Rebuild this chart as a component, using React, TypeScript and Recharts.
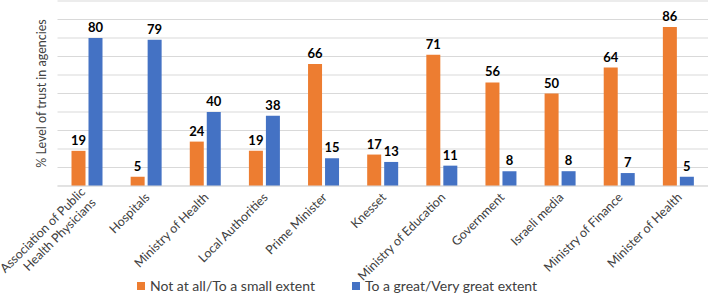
import React from 'react';
import { BarChart, Bar, XAxis, YAxis, ReferenceLine, Legend, LabelList } from 'recharts';

const CATEGORIES = [
  'Association of Public\nHealth Physicians',
  'Hospitals',
  'Ministry of Health',
  'Local Authorities',
  'Prime Minister',
  'Knesset',
  'Ministry of Education',
  'Government',
  'Israeli media',
  'Ministry of Finance',
  'Minister of Health',
];
const LOW_TRUST = [19, 5, 24, 19, 66, 17, 71, 56, 50, 64, 86];
const HIGH_TRUST = [80, 79, 40, 38, 15, 13, 11, 8, 8, 7, 5];
const Y_TICKS = [0, 10, 20, 30, 40, 50, 60, 70, 80, 90, 100];

const ORANGE = '#ED7D31';
const BLUE = '#4472C4';
const TEXT = '#404040';
const GRID = '#d9d9d9';
const FONT = 'Lato, "Open Sans", sans-serif';

const data = CATEGORIES.map((name, i) => ({ name, low: LOW_TRUST[i], high: HIGH_TRUST[i] }));

const AngledTick = ({ x, y, payload }: any) => {
  const lines: string[] = String(payload.value).split('\n');
  const lh = 15;
  return (
    <g transform={`translate(${x + 1},${y + 7}) rotate(-45)`}>
      <text textAnchor="end" fill={TEXT} fontSize={12.5} fontFamily={FONT}>
        {lines.map((t, i) => (
          <tspan key={i} x={0} dy={i === 0 ? -((lines.length - 1) * lh) / 2 + 4.5 : lh}>
            {t}
          </tspan>
        ))}
      </text>
    </g>
  );
};

const LegendBox = () => {
  const items = [
    { label: 'Not at all/To a small extent', color: ORANGE },
    { label: 'To a great/Very great extent', color: BLUE },
  ];
  return (
    <div style={{ display: 'flex', justifyContent: 'center', gap: 37, fontFamily: FONT, fontSize: 14, color: TEXT, paddingRight: 34 }}>
      {items.map((it) => (
        <div key={it.label} style={{ display: 'flex', alignItems: 'center' }}>
          <span style={{ width: 8, height: 8, background: it.color, marginRight: 5, display: 'inline-block' }} />
          <span>{it.label}</span>
        </div>
      ))}
    </div>
  );
};

const App: React.FC = () => {
  return (
    <div style={{ position: 'absolute', left: 0, top: 0, width: 710, height: 301, background: '#fff' }}>
      <BarChart
        width={710}
        height={301}
        data={data}
        margin={{ top: 1, right: 2, left: 0, bottom: 0 }}
        barSize={14}
        barGap={3}
      >
        <YAxis
          width={57.5}
          domain={[0, 100]}
          ticks={Y_TICKS}
          tick={() => <g />}
          tickLine={false}
          axisLine={false}
          label={{
            value: '% Level of trust in agencies',
            angle: -90,
            position: 'center',
            dx: 13,
            fill: TEXT,
            fontSize: 12.5,
            fontFamily: FONT,
          }}
        />
        <XAxis
          dataKey="name"
          height={91}
          interval={0}
          tickLine={false}
          tickSize={0}
          axisLine={{ stroke: GRID }}
          tick={<AngledTick />}
        />
        {Y_TICKS.map((v) => (
          <ReferenceLine key={v} y={v} stroke={GRID} strokeWidth={1} zIndex={-50} />
        ))}
        <Legend verticalAlign="bottom" height={24} content={<LegendBox />} />
        <Bar dataKey="low" name="Not at all/To a small extent" fill={ORANGE} isAnimationActive={false}>
          <LabelList dataKey="low" position="top" offset={6} fill="#000" fontSize={13} fontWeight="bold" fontFamily={FONT} />
        </Bar>
        <Bar dataKey="high" name="To a great/Very great extent" fill={BLUE} isAnimationActive={false}>
          <LabelList dataKey="high" position="top" offset={6} fill="#000" fontSize={13} fontWeight="bold" fontFamily={FONT} />
        </Bar>
      </BarChart>
    </div>
  );
};

export default App;
